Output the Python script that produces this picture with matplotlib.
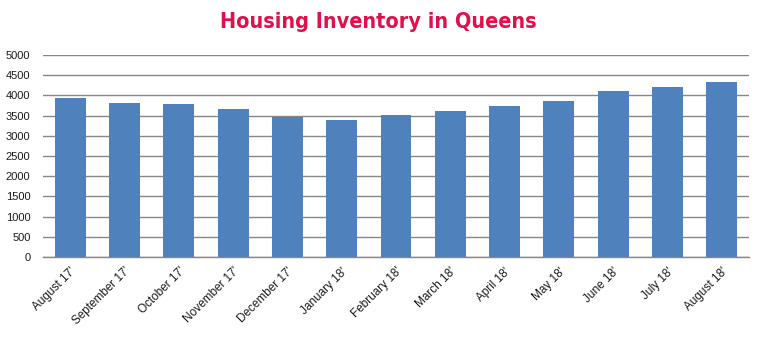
import os
import matplotlib.pyplot as plt
import matplotlib.font_manager as fm
import numpy as np

months = ["August 17'", "September 17'", "October 17'", "November 17'",
          "December 17'", "January 18'", "February 18'", "March 18'",
          "April 18'", "May 18'", "June 18'", "July 18'", "August 18'"]
inventory = [3945, 3820, 3795, 3670, 3475, 3400, 3515, 3620,
             3745, 3870, 4115, 4215, 4340]
y_ticks = list(range(0, 5001, 500))


def font_file(*wanted):
    files = {os.path.basename(p): p for p in fm.findSystemFonts()}
    for w in wanted:
        if w in files:
            return fm.FontProperties(fname=files[w])
    return None


title_font = font_file("LiberationSansNarrow-Bold.ttf", "DejaVuSansCondensed-Bold.ttf")
tick_font = font_file("LiberationSans-Regular.ttf", "DejaVuSans.ttf")

fig = plt.figure(figsize=(7.62, 3.41), dpi=100)
ax = fig.add_axes([0.0564, 0.2463, 0.9266, 0.5924])

x = np.arange(len(months))
ax.bar(x, inventory, width=0.57, color="#4F81BD", zorder=2)

ax.set_xlim(-0.5, len(months) - 0.5)
ax.set_ylim(0, 5000)
ax.set_yticks(y_ticks)
ax.yaxis.grid(True, color="#878787", linewidth=1.0, zorder=0)
ax.set_axisbelow(True)

for side in ("top", "right", "left"):
    ax.spines[side].set_visible(False)
ax.spines["bottom"].set_color("#878787")
ax.spines["bottom"].set_linewidth(1.0)

ax.tick_params(axis="both", length=0, labelcolor="#1a1a1a")
ax.tick_params(axis="y", pad=9)
ax.tick_params(axis="x", pad=6)
ax.set_xticks(x)
ax.set_xticklabels(months, rotation=45, ha="right", rotation_mode="anchor")
for lbl in ax.get_xticklabels():
    if tick_font is not None:
        lbl.set_fontproperties(tick_font)
    lbl.set_fontsize(8.5)
for lbl in ax.get_yticklabels():
    if tick_font is not None:
        lbl.set_fontproperties(tick_font)
    lbl.set_fontsize(8)

title = fig.text(0.497, 0.935, "Housing Inventory in Queens", ha="center",
                 va="center", color="#E0104A")
if title_font is not None:
    title.set_fontproperties(title_font)
title.set_fontsize(15.5)

fig.savefig("out.png", dpi=100)
